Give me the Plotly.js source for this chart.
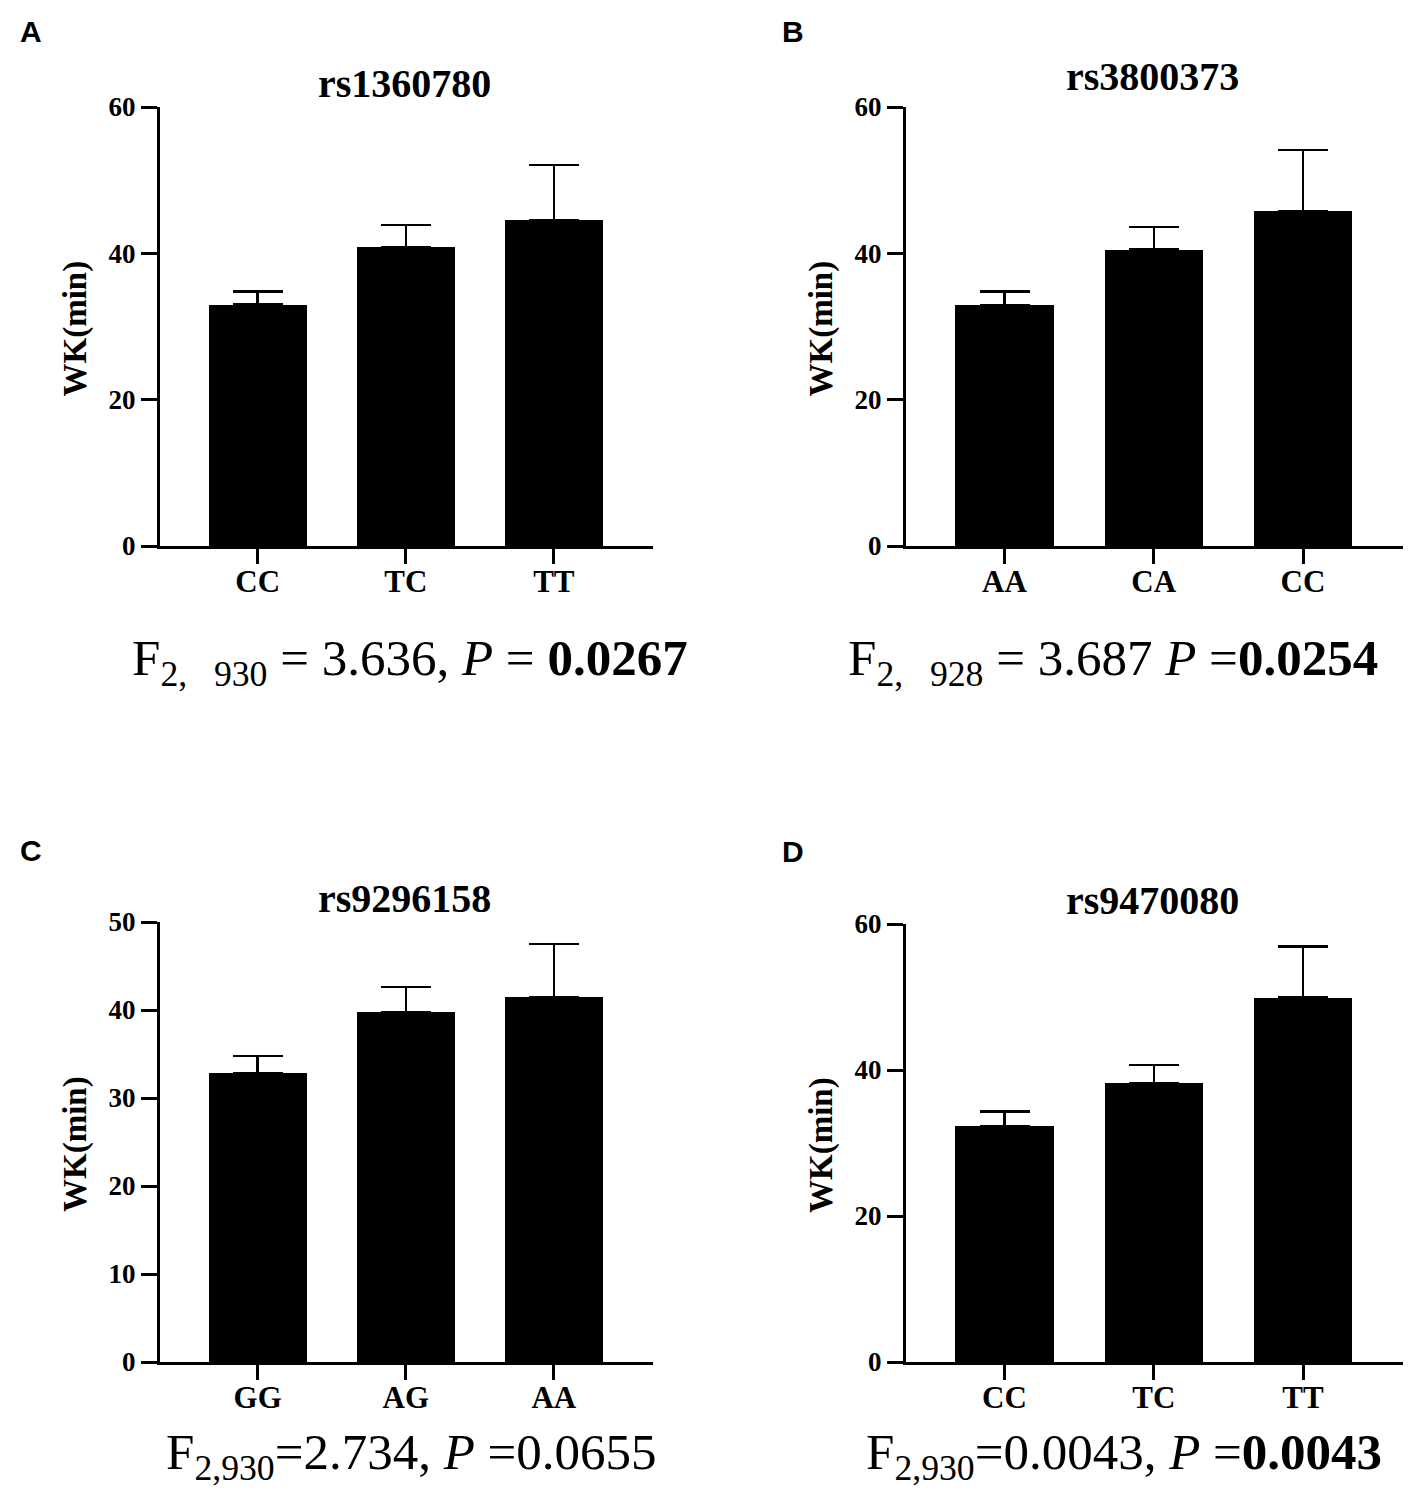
<!DOCTYPE html>
<html>
<head>
<meta charset="utf-8">
<script src="https://cdn.plot.ly/plotly-3.0.1.min.js"></script>
<style>
  body { margin: 0; background: #fff; }
  #chart { width: 1417px; height: 1499px; }
</style>
</head>
<body>
<div id="chart"></div>
<script>
// panel data: genotype groups, mean WK (min) and upper SEM
var catsA = ['CC', 'TC', 'TT'];
var meanA = [33.0, 40.9, 44.5];
var errA  = [1.8, 3.0, 7.6];

var catsB = ['AA', 'CA', 'CC'];
var meanB = [32.9, 40.5, 45.8];
var errB  = [1.9, 3.1, 8.3];

var catsC = ['GG', 'AG', 'AA'];
var meanC = [32.8, 39.8, 41.5];
var errC  = [2.0, 2.8, 6.0];

var catsD = ['CC', 'TC', 'TT'];
var meanD = [32.3, 38.2, 49.9];
var errD  = [2.0, 2.5, 7.0];

var snps = ['rs1360780', 'rs3800373', 'rs9296158', 'rs9470080'];
var letters = ['A', 'B', 'C', 'D'];
var stats = [
  'F<sub>2,\u00a0\u00a0 930</sub> = 3.636, <i>P</i> = <b>0.0267</b>',
  'F<sub>2,\u00a0\u00a0 928</sub> = 3.687 <i>P</i> =<b>0.0254</b>',
  'F<sub>2,930</sub>=2.734, <i>P</i> =0.0655',
  'F<sub>2,930</sub>=0.0043, <i>P</i> =<b>0.0043</b>'
];
var yMax = [60, 60, 50, 60];
var yDtick = [20, 20, 10, 20];

var W = 1417, H = 1499;
function px(x) { return x / W; }
function py(y) { return 1 - y / H; }

var serif = 'Liberation Serif, Times New Roman, serif';

function barTrace(cats, vals, errs, n) {
  var sfx = n === 1 ? '' : String(n);
  return {
    type: 'bar',
    x: cats,
    y: vals,
    width: 0.66,
    xaxis: 'x' + sfx,
    yaxis: 'y' + sfx,
    marker: { color: '#000', line: { width: 0 } },
    error_y: {
      type: 'data',
      symmetric: false,
      array: errs,
      arrayminus: errs.map(function () { return 0; }),
      color: '#000',
      thickness: 2.5,
      width: 25
    },
    hoverinfo: 'x+y',
    showlegend: false
  };
}

var data = [
  barTrace(catsA, meanA, errA, 1),
  barTrace(catsB, meanB, errB, 2),
  barTrace(catsC, meanC, errC, 3),
  barTrace(catsD, meanD, errD, 4)
];

// pixel boxes of each plot area [left, right, top, bottom]
var boxes = [
  [160, 653, 107, 546],
  [906, 1403, 107, 546],
  [160, 653, 922, 1362],
  [906, 1403, 924, 1362]
];
// placement tweaks: title y, letter x/y, stats x/y
var titleY  = [84, 77, 898, 900];
var letterX = [18, 780, 18, 780];
var letterY = [31, 31, 850, 851];
var statX   = [410, 1113, 411, 1124];
var statY   = [662, 662, 1456, 1456];

var layout = {
  width: W,
  height: H,
  margin: { l: 0, r: 0, t: 0, b: 0 },
  paper_bgcolor: '#fff',
  plot_bgcolor: '#fff',
  showlegend: false,
  bargap: 0,
  annotations: []
};

boxes.forEach(function (b, i) {
  var sfx = i === 0 ? '' : String(i + 1);
  layout['xaxis' + sfx] = {
    domain: [px(b[0]), px(b[1])],
    anchor: 'y' + sfx,
    type: 'category',
    range: [-0.66, 2.67],
    showline: true, linecolor: '#000', linewidth: 3,
    ticks: 'outside', ticklen: 15, tickwidth: 3, tickcolor: '#000',
    ticklabelstandoff: -9,
    showgrid: false, zeroline: false, fixedrange: true,
    tickfont: { family: serif, size: 31, color: '#000', weight: 'bold' }
  };
  layout['yaxis' + sfx] = {
    domain: [py(b[3]), py(b[2])],
    anchor: 'x' + sfx,
    range: [0, yMax[i]],
    dtick: yDtick[i],
    showline: true, linecolor: '#000', linewidth: 3,
    ticks: 'outside', ticklen: 16, tickwidth: 3, tickcolor: '#000',
    showgrid: false, zeroline: false, fixedrange: true,
    tickfont: { family: serif, size: 27, color: '#000', weight: 'bold' }
  };

  var cx = (b[0] + b[1]) / 2;
  // snp title
  layout.annotations.push({
    xref: 'paper', yref: 'paper',
    x: px(cx - 2), y: py(titleY[i]),
    xanchor: 'center', yanchor: 'middle',
    text: '<b>' + snps[i] + '</b>',
    showarrow: false,
    font: { family: serif, size: 40, color: '#000' }
  });
  // y title
  layout.annotations.push({
    xref: 'paper', yref: 'paper',
    x: px(b[0] - 85), y: py((b[2] + b[3]) / 2 + 2),
    xanchor: 'center', yanchor: 'middle',
    textangle: -90,
    text: '<b>WK(min)</b>',
    showarrow: false,
    font: { family: serif, size: 33, color: '#000' }
  });
  // panel letter
  layout.annotations.push({
    xref: 'paper', yref: 'paper',
    x: px(letterX[i]), y: py(letterY[i]),
    xanchor: 'left', yanchor: 'middle',
    text: '<b>' + letters[i] + '</b>',
    showarrow: false,
    font: { family: 'Liberation Sans, Arial, sans-serif', size: 30, color: '#000' }
  });
  // stats line
  layout.annotations.push({
    xref: 'paper', yref: 'paper',
    x: px(statX[i]), y: py(statY[i]),
    xanchor: 'center', yanchor: 'middle',
    text: stats[i],
    showarrow: false,
    font: { family: serif, size: 51, color: '#000' }
  });
});

Plotly.newPlot('chart', data, layout, { displayModeBar: false, staticPlot: true });
</script>
</body>
</html>
